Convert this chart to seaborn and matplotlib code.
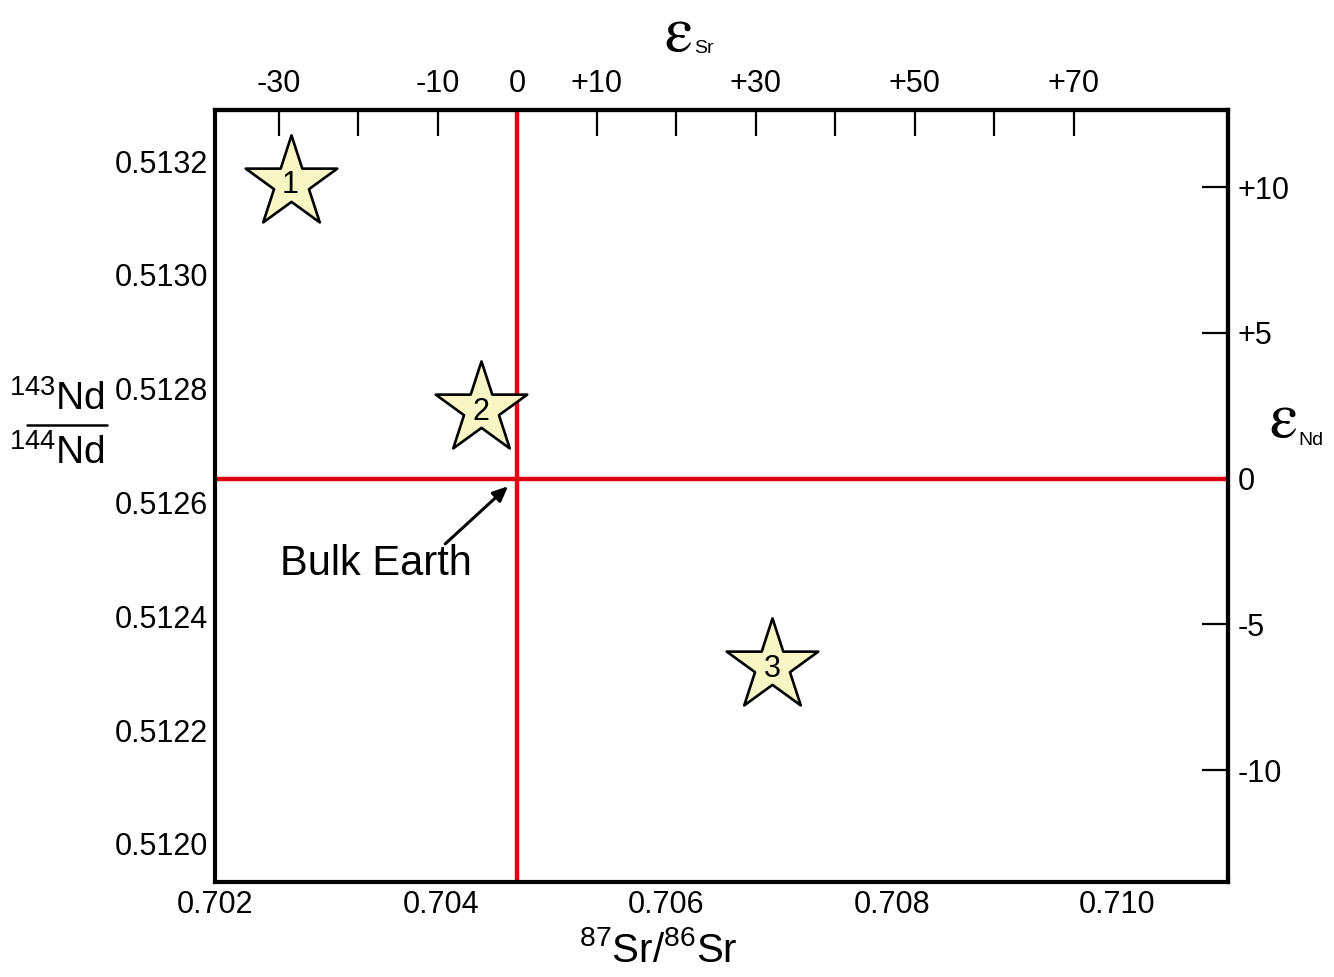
import numpy as np
import pandas as pd
import matplotlib
matplotlib.use("Agg")
import matplotlib.pyplot as plt
from matplotlib.lines import Line2D
import seaborn as sns

# star samples (87Sr/86Sr, 143Nd/144Nd)
sr_ratio = [0.70267, 0.70436, 0.70694]
nd_ratio = [0.513162, 0.512764, 0.512312]
star_labels = ["1", "2", "3"]

# bulk earth reference values
bulk_sr = 0.70468
bulk_nd = 0.512642

# tick values
sr_major = [0.702, 0.704, 0.706, 0.708, 0.710]
sr_minor = [0.703, 0.705, 0.707, 0.709]
nd_ticks = [0.5120, 0.5122, 0.5124, 0.5126, 0.5128, 0.5130, 0.5132]
eps_sr_ticks = [-30, -20, -10, 0, 10, 20, 30, 40, 50, 60, 70]
eps_sr_labels = ["-30", "", "-10", "0", "+10", "", "+30", "", "+50", "", "+70"]
eps_nd_ticks = [-10, -5, 0, 5, 10]
eps_nd_labels = ["-10", "-5", "0", "+5", "+10"]

df = pd.DataFrame({"sr": sr_ratio, "nd": nd_ratio, "label": star_labels})

sns.set_style("white")
plt.rcParams["font.family"] = ["Liberation Sans", "DejaVu Sans"]
plt.rcParams["mathtext.fontset"] = "custom"
plt.rcParams["mathtext.rm"] = "Liberation Sans"
plt.rcParams["mathtext.it"] = "Liberation Sans"
plt.rcParams["text.color"] = "black"
plt.rcParams["xtick.color"] = "black"
plt.rcParams["ytick.color"] = "black"
plt.rcParams["axes.labelcolor"] = "black"

fig = plt.figure(figsize=(13.34, 9.77), dpi=100)
ax = fig.add_axes([0.1612, 0.0972, 0.7593, 0.7902])

ax.axvline(bulk_sr, color="#e00010", lw=3.2, zorder=2)
ax.axhline(bulk_nd, color="#e00010", lw=3.2, zorder=2)

sns.scatterplot(data=df, x="sr", y="nd", marker="*", s=4800, color="#f8f6c4",
                edgecolor="black", linewidth=1.9, zorder=3, ax=ax, legend=False)
for _, r in df.iterrows():
    ax.text(r["sr"], r["nd"] - 0.000004, r["label"], ha="center", va="center",
            fontsize=22, zorder=4)

ax.set_xlim(0.702, 0.71098)
ax.set_ylim(0.511933, 0.51329)

ax.set_xticks(sr_major)
ax.set_xticklabels([f"{v:.3f}" for v in sr_major])
ax.set_xticks(sr_minor, minor=True)
ax.set_yticks(nd_ticks)
ax.set_yticklabels([f"{v:.4f}" for v in nd_ticks])
ax.set_xlabel("")
ax.set_ylabel("")

for s in ax.spines.values():
    s.set_linewidth(3)
    s.set_color("black")

ax.tick_params(axis="both", which="both", direction="in", length=19, width=1.6,
               color="black", labelcolor="black", labelsize=22)
ax.tick_params(axis="x", which="both", pad=6)
ax.tick_params(axis="y", which="both", pad=5)

# epsilon scales
def sr_to_eps(x):
    return (np.asarray(x) / bulk_sr - 1) * 1e4

def eps_to_sr(e):
    return bulk_sr * (1 + np.asarray(e) / 1e4)

def nd_to_eps(y):
    return (np.asarray(y) / bulk_nd - 1) * 1e4

def eps_to_nd(e):
    return bulk_nd * (1 + np.asarray(e) / 1e4)

top = ax.secondary_xaxis("top", functions=(sr_to_eps, eps_to_sr))
top.set_xticks(eps_sr_ticks)
top.set_xticklabels(eps_sr_labels)
top.tick_params(direction="in", length=19, width=1.6, labelsize=22, pad=8,
                color="black", labelcolor="black")
top.spines["top"].set_linewidth(3)

right = ax.secondary_yaxis("right", functions=(nd_to_eps, eps_to_nd))
right.set_yticks(eps_nd_ticks)
right.set_yticklabels(eps_nd_labels)
right.tick_params(direction="in", length=19, width=1.6, labelsize=22, pad=7,
                  color="black", labelcolor="black")
right.spines["right"].set_linewidth(3)

# bulk earth arrow
ax.annotate("", xy=(0.704616, 0.512632), xytext=(0.704022, 0.512524),
            arrowprops=dict(arrowstyle="-|>,head_length=0.9,head_width=0.4",
                            color="black", lw=2.2))
ax.text(0.702576, 0.512492, "Bulk Earth", fontsize=30, ha="left", va="center")

# axis titles
eps = r"$\mathrm{\varepsilon}$"
fig.text(0.508, 0.965, eps, math_fontfamily="stix", fontsize=46, ha="center", va="center")
fig.text(0.5275, 0.950, "Sr", fontsize=14, ha="center", va="center")
fig.text(0.9615, 0.570, eps, math_fontfamily="stix", fontsize=46, ha="center", va="center")
fig.text(0.9825, 0.549, "Nd", fontsize=14, ha="center", va="center")

fig.text(0.0425, 0.592, r"$^{143}$Nd", fontsize=28, ha="center", va="center")
fig.add_artist(Line2D([0.0202, 0.0802], [0.565, 0.565], transform=fig.transFigure,
                      color="black", lw=1.8))
fig.text(0.0425, 0.536, r"$^{144}$Nd", fontsize=28, ha="center", va="center")

fig.text(0.4933, 0.027, r"$^{87}$Sr/$^{86}$Sr", fontsize=29, ha="center", va="center")

fig.savefig("out.png", dpi=100)
